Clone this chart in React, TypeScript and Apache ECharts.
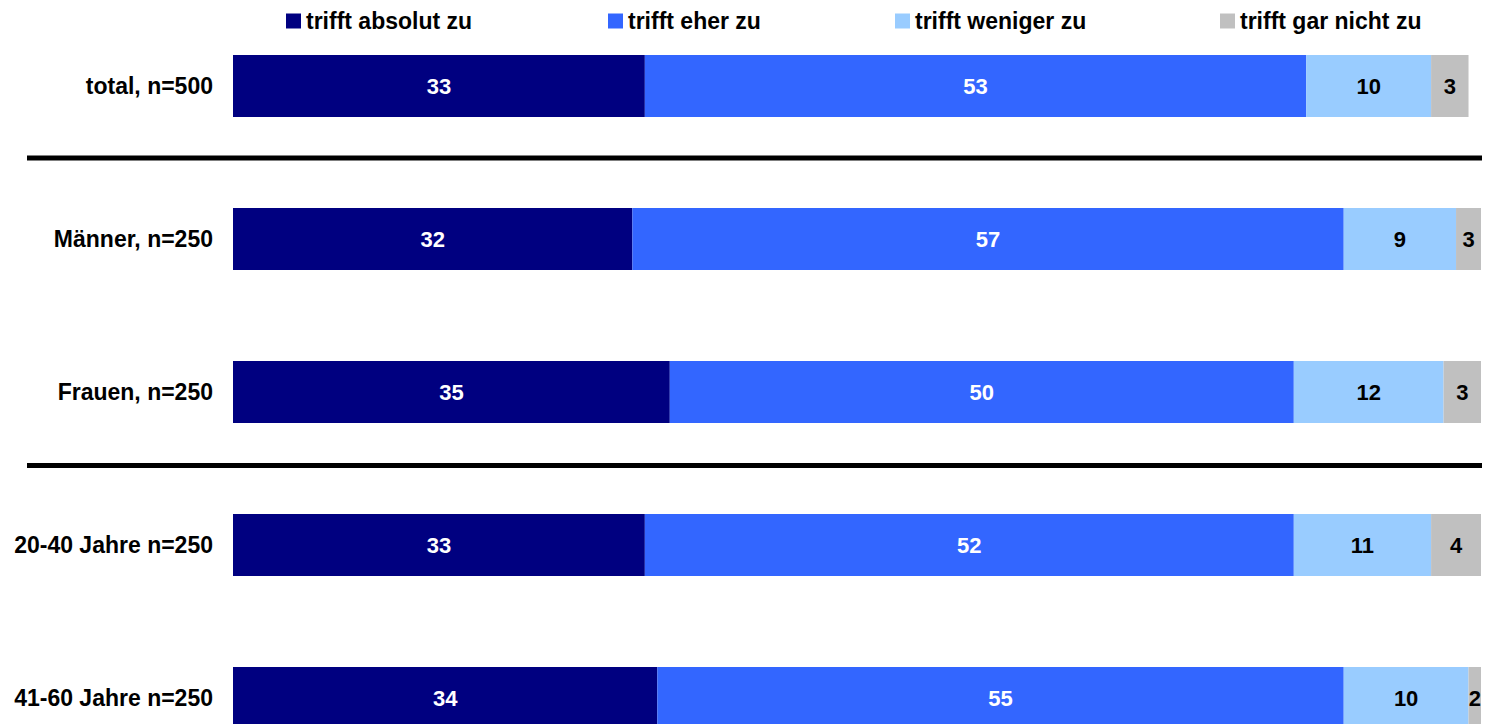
import React, { useEffect, useRef } from "react";
import * as echarts from "echarts";

const categories = [
  "total, n=500",
  "Männer, n=250",
  "Frauen, n=250",
  "20-40 Jahre n=250",
  "41-60 Jahre n=250",
];
const seriesNames = [
  "trifft absolut zu",
  "trifft eher zu",
  "trifft weniger zu",
  "trifft gar nicht zu",
];
const absolut = [33, 32, 35, 33, 34];
const eher = [53, 57, 50, 52, 55];
const weniger = [10, 9, 12, 11, 10];
const garNicht = [3, 3, 3, 4, 2];
const seriesValues = [absolut, eher, weniger, garNicht];
const colors = ["#000080", "#3366FF", "#99CCFF", "#C0C0C0"];
const labelColors = ["#FFFFFF", "#FFFFFF", "#000000", "#000000"];
const legendLefts = [286, 608, 895, 1220];

const FONT = "'Liberation Sans', Arial, sans-serif";

export default function App() {
  const ref = useRef<HTMLDivElement>(null);
  useEffect(() => {
    document.body.style.margin = "0";
    document.body.style.overflow = "hidden";
    const chart = echarts.init(ref.current!, undefined, { renderer: "svg" });
    const option: any = {
      animation: false,
      legend: seriesNames.map((n, i) => ({
        data: [n],
        left: legendLefts[i],
        top: 9,
        icon: "rect",
        itemWidth: 15,
        itemHeight: 15,
        selectedMode: false,
        padding: 0,
        textStyle: {
          fontFamily: FONT,
          fontSize: 23,
          fontWeight: "bold",
          color: "#000",
          lineHeight: 24,
        },
      })),
      grid: {
        left: 233,
        width: 1248,
        top: 9.5,
        height: 765,
        containLabel: false,
        outerBoundsMode: "none",
      },
      xAxis: {
        type: "value",
        min: 0,
        max: 100,
        show: false,
      },
      yAxis: {
        type: "category",
        data: categories,
        inverse: true,
        axisLine: { show: false },
        axisTick: { show: false },
        splitLine: { show: false },
        axisLabel: {
          margin: 20,
          fontFamily: FONT,
          fontSize: 23,
          fontWeight: "bold",
          color: "#000",
        },
      },
      series: seriesValues.map((vals, i) => ({
        name: seriesNames[i],
        type: "bar",
        stack: "total",
        data: vals,
        barWidth: 62,
        itemStyle: { color: colors[i] },
        label: {
          show: true,
          position: "inside",
          color: labelColors[i],
          fontFamily: FONT,
          fontSize: 22,
          fontWeight: "bold",
        },
      })),
      graphic: [
        {
          type: "line",
          shape: { x1: 27, y1: 158, x2: 1482, y2: 158 },
          style: { stroke: "#000", lineWidth: 5 },
        },
        {
          type: "line",
          shape: { x1: 27, y1: 465.5, x2: 1482, y2: 465.5 },
          style: { stroke: "#000", lineWidth: 5 },
        },
      ],
    };
    chart.setOption(option);
    return () => chart.dispose();
  }, []);
  return <div ref={ref} style={{ width: 1490, height: 790 }} />;
}
